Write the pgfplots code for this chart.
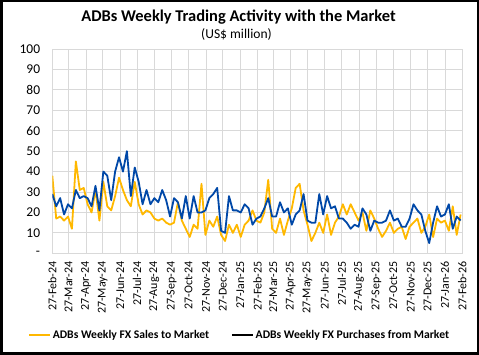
\documentclass[border=0pt]{standalone}
\usepackage{pgfplots}
\pgfplotsset{compat=1.18}
\usepackage{pgfplotstable}
\usepackage{fontspec}
\setmainfont{Carlito}
\definecolor{salesc}{RGB}{255,184,0}
\definecolor{purchc}{RGB}{0,72,168}
\definecolor{gridc}{RGB}{217,217,217}

\pgfplotstableread{
day sales purch
0 38 29
7 17 23
14 18 27
21 16 19
28 18 24
35 12 22
42 45 31
49 31 27
56 32 28
63 24 27
70 20 23
77 31 33
84 16 21
91 35 40
98 23 38
105 21 26
112 28 40
119 37 47
126 31 40
133 26 50
140 23 28
147 35 42
154 24 35
161 19 24
168 21 31
175 20 24
182 17 27
189 16 25
196 17 31
203 15 26
210 14 18
217 15 27
224 25 25
231 16 17
238 12 28
245 8 17
252 14 28
259 12 20
266 34 20
273 9 21
280 16 27
287 13 29
294 18 32
301 9 11
308 6 10
315 14 28
322 10 21
329 14 21
336 8 20
343 14 24
350 16 22
357 21 14
364 16 17
371 15 18
378 20 22
385 36 27
392 12 18
399 10 18
406 17 25
413 9 20
420 16 22
427 22 14
434 32 19
441 34 21
448 21 29
455 14 16
462 6 15
469 10 15
476 15 29
483 10 19
490 19 28
497 9 22
504 15 23
511 18 17
518 24 17
525 19 15
532 24 12
539 20 14
546 16 13
553 20 22
560 11 19
567 21 11
574 17 16
581 12 15
588 8 15
595 11 16
602 15 21
609 10 16
616 12 17
623 13 13
630 7 13
637 13 17
644 15 24
651 17 21
658 10 19
665 13 11
672 19 5
679 8 15
686 17 23
693 15 18
700 16 19
707 11 24
714 23 12
721 9 18
728 19 16
}\datatable

\begin{document}
\begin{tikzpicture}
\path[use as bounding box] (0bp,0bp) rectangle (479bp,355bp);
\draw[line width=2.5bp,black] (1.25bp,1.25bp) rectangle (477.75bp,353.75bp);
\node[font=\bfseries\fontsize{16.5}{18}\selectfont] at (238.5bp,338bp) {ADBs Weekly Trading Activity with the Market};
\node[font=\fontsize{13.6}{15}\selectfont] at (236.5bp,321bp) {(US\$ million)};
\begin{axis}[
  at={(52.3bp,101.7bp)}, anchor=south west,
  scale only axis, width=410bp, height=204.3bp,
  xmin=0, xmax=731, ymin=0, ymax=100,
  xtick={0,29,60,90,121,151,182,213,243,274,304,335,366,394,425,455,486,516,547,578,608,639,669,700,731},
  xticklabels={27-Feb-24,27-Mar-24,27-Apr-24,27-May-24,27-Jun-24,27-Jul-24,27-Aug-24,27-Sep-24,27-Oct-24,27-Nov-24,27-Dec-24,27-Jan-25,27-Feb-25,27-Mar-25,27-Apr-25,27-May-25,27-Jun-25,27-Jul-25,27-Aug-25,27-Sep-25,27-Oct-25,27-Nov-25,27-Dec-25,27-Jan-26,27-Feb-26},
  xticklabel style={rotate=90, anchor=east, inner sep=0pt, font=\fontsize{12}{13}\selectfont},
  xticklabel shift=8bp,
  ytick={0,10,...,100},
  yticklabels={-,10,20,30,40,50,60,70,80,90,100},
  yticklabel style={anchor=east, inner sep=0pt, font=\fontsize{13.5}{15}\selectfont},
  yticklabel shift=12bp,
  /pgf/number format/assume math mode=true,
  grid=major,
  major grid style={draw=gridc, line width=0.8bp},
  axis line style={draw=gridc, line width=0.8bp},
  tick style={draw=none},
  legend style={at={(0.457,-0.40)}, anchor=center, draw=none, fill=none,
    legend columns=2, font=\bfseries\fontsize{11.7}{13}\selectfont,
    /tikz/every even column/.append style={column sep=20bp},
    inner sep=0pt},
  legend image code/.code={\draw[#1] (0bp,0bp) -- (21bp,0bp);},
  legend cell align=left,
]
\addlegendimage{salesc, line width=1.6bp}
\addlegendimage{black, line width=1.6bp}
\addplot[salesc, line width=1.8bp, line join=round, forget plot] table[x=day, y=sales] {\datatable};
\addplot[purchc, line width=1.8bp, line join=round, forget plot] table[x=day, y=purch] {\datatable};
\legend{ADBs Weekly FX Sales to Market, ADBs Weekly FX Purchases from Market}
\end{axis}
\end{tikzpicture}
\end{document}
